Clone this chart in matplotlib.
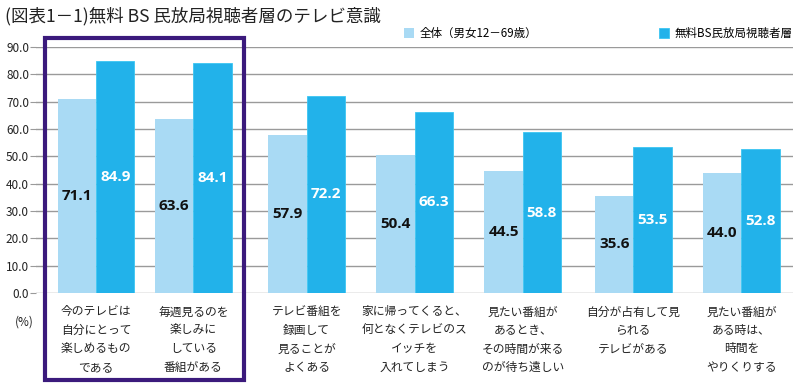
import matplotlib
matplotlib.use("Agg")
import matplotlib.pyplot as plt
import numpy as np
from matplotlib.patches import Rectangle

plt.rcParams['font.family'] = ['Noto Sans CJK JP', 'DejaVu Sans']

title = "(図表1－1)無料 BS 民放局視聴者層のテレビ意識"
series_names = ["全体（男女12－69歳）", "無料BS民放局視聴者層"]
categories = [
    "今のテレビは\n自分にとって\n楽しめるもの\nである",
    "毎週見るのを\n楽しみに\nしている\n番組がある",
    "テレビ番組を\n録画して\n見ることが\nよくある",
    "家に帰ってくると、\n何となくテレビのス\nイッチを\n入れてしまう",
    "見たい番組が\nあるとき、\nその時間が来る\nのが待ち遠しい",
    "自分が占有して見\nられる\nテレビがある",
    "見たい番組が\nある時は、\n時間を\nやりくりする",
]
overall = [71.1, 63.6, 57.9, 50.4, 44.5, 35.6, 44.0]
bs_viewers = [84.9, 84.1, 72.2, 66.3, 58.8, 53.5, 52.8]
yticks = [0, 10, 20, 30, 40, 50, 60, 70, 80, 90]

light = "#a9daf4"
dark = "#22b2ea"
purple = "#3b1a7c"

fig = plt.figure(figsize=(8.0, 3.86), dpi=100)
ax = fig.add_axes([0.045, 0.241, 0.946, 0.637])

# group centers (two highlighted groups are packed closer)
x = np.array([0, 0.9, 1.95, 2.95, 3.95, 4.975, 5.975])
w = 0.355

ax.set_ylim(0, 90)
ax.set_xlim(-0.556, 6.45)
ax.set_yticks(yticks)
ax.set_yticklabels([f"{v:.1f}" for v in yticks], fontsize=8.5, color="#222222")
ax.yaxis.grid(True, color="#9a9a9a", linewidth=1.0)
ax.set_axisbelow(True)
for s in ["top", "right", "left", "bottom"]:
    ax.spines[s].set_visible(False)
ax.tick_params(axis="y", length=4, color="#9a9a9a", pad=1)
ax.tick_params(axis="x", length=0)
ax.set_xticks(x)
ax.set_xticklabels(categories, fontsize=8.5, linespacing=1.55, va="top", color="#222222")
ax.tick_params(axis="x", pad=9)

b1 = ax.bar(x - w / 2, overall, w, color=light, edgecolor="none", label=series_names[0])
b2 = ax.bar(x + w / 2, bs_viewers, w, color=dark, edgecolor="#3cc6f2", linewidth=0.6, label=series_names[1])

for xi, v in zip(x, overall):
    ax.text(xi - w / 2, v / 2, f"{v:.1f}", ha="center", va="center", fontsize=11,
            fontweight="bold", color="#111111", family=["Open Sans", "DejaVu Sans"])
for xi, v in zip(x, bs_viewers):
    ax.text(xi + w / 2, v / 2, f"{v:.1f}", ha="center", va="center", fontsize=11,
            fontweight="bold", color="white", family=["Open Sans", "DejaVu Sans"])

fig.text(0.006, 0.957, title, fontsize=12.6, ha="left", va="center", color="#222222")
fig.text(0.031, 0.165, "(%)", fontsize=8.5, ha="center", va="center", color="#222222")

ax.legend(loc="lower right", bbox_to_anchor=(1.009, 1.0), ncol=2, frameon=False,
          fontsize=8.3, handlelength=0.9, handleheight=0.9, handletextpad=0.5,
          columnspacing=10.5, borderaxespad=0.5, borderpad=0.1)

box = Rectangle((45 / 800, 1 - 380 / 386), (244 - 45) / 800, (380 - 38) / 386,
                transform=fig.transFigure, fill=False, edgecolor=purple, linewidth=3.0,
                zorder=10)
fig.patches.append(box)

fig.savefig("out.png", dpi=100)
